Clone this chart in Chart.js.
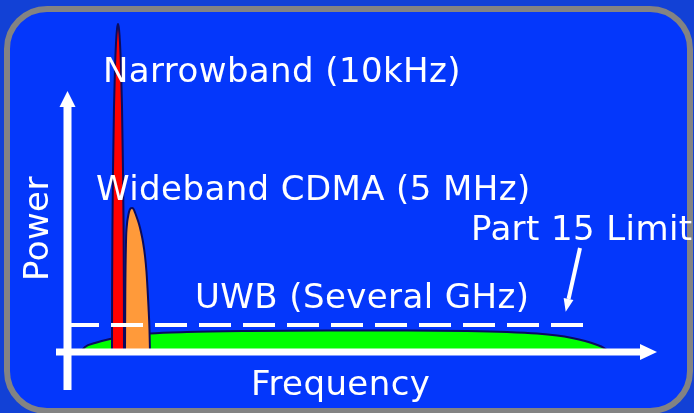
<!DOCTYPE html>
<html>
<head>
<meta charset="utf-8">
<script src="https://cdn.jsdelivr.net/npm/chart.js@4/dist/chart.umd.min.js"></script>
<style>
  html, body { margin: 0; padding: 0; background: #1241d6; overflow: hidden; }
  canvas { display: block; }
</style>
</head>
<body>
<canvas id="spectrum" width="694" height="413"></canvas>
<script>
// Spectrum sketch: frequency in arbitrary units (x), relative power (y)

// Narrowband carrier (10 kHz): tall, very thin spike
const narrowbandFreq  = [45, 45.1, 45.5, 46, 47, 48, 49, 50, 51, 52, 53, 54, 55, 56, 56.5, 56.9, 57];
const narrowbandPower = [0, 59, 131, 181, 245, 284, 309, 323, 328, 323, 309, 284, 245, 181, 131, 59, 0];

// Wideband CDMA (5 MHz): medium-height lobe
const widebandFreq  = [58, 58.3, 59, 60, 61, 62, 63.5, 65, 66.5, 68, 70, 72, 74, 76, 78, 79.5, 80.5, 81.5, 82.5, 83];
const widebandPower = [0, 60, 110, 128, 135, 140, 143.5, 144, 143, 139.5, 134, 128, 120, 110, 96, 80, 64, 45, 22, 0];

// UWB (several GHz): very low, very wide spread
const uwbFreq  = [14, 18, 28, 43, 60, 83, 120, 180, 260, 340, 400, 440, 470, 490, 505, 518, 529, 537, 542];
const uwbPower = [0, 5, 9, 13, 16, 18.5, 20, 21, 21.5, 21.5, 21, 20, 18.5, 16.5, 14, 11, 7.5, 4, 0];

// FCC Part 15 emission limit
const limitFreq  = [0, 516];
const limitPower = [27, 27];

// Text
const titleNarrow   = 'Narrowband (10kHz)';
const titleWideband = 'Wideband CDMA (5 MHz)';
const titleLimit    = 'Part 15 Limit';
const titleUwb      = 'UWB (Several GHz)';
const axisX         = 'Frequency';
const axisY         = 'Power';

const toPoints = (xs, ys) => xs.map((x, i) => ({ x: x, y: ys[i] }));

const OUTLINE = '#0b0b5e';
const FONT = '34px "DejaVu Sans", Verdana, sans-serif';

function drawArrow(ctx, x1, y1, x2, y2, width, headLen, headHalf) {
  const a = Math.atan2(y2 - y1, x2 - x1);
  const bx = x2 - headLen * Math.cos(a);
  const by = y2 - headLen * Math.sin(a);
  ctx.lineWidth = width;
  ctx.lineCap = 'butt';
  ctx.beginPath();
  ctx.moveTo(x1, y1);
  ctx.lineTo(bx, by);
  ctx.stroke();
  ctx.beginPath();
  ctx.moveTo(x2, y2);
  ctx.lineTo(bx + headHalf * Math.sin(a), by - headHalf * Math.cos(a));
  ctx.lineTo(bx - headHalf * Math.sin(a), by + headHalf * Math.cos(a));
  ctx.closePath();
  ctx.fill();
}

// Blue slide panel with a grey rounded frame
const panel = {
  id: 'panel',
  beforeDraw(chart) {
    const ctx = chart.ctx;
    ctx.save();
    ctx.fillStyle = '#1241d6';
    ctx.fillRect(0, 0, chart.width, chart.height);
    ctx.beginPath();
    ctx.roundRect(7, 9, 683, 402, 40);
    ctx.fillStyle = '#0437fb';
    ctx.fill();
    ctx.lineWidth = 6;
    ctx.strokeStyle = '#838383';
    ctx.stroke();
    ctx.restore();
  }
};

// Axis arrows, pointer arrow and text labels
const overlay = {
  id: 'overlay',
  afterDatasetsDraw(chart) {
    const ctx = chart.ctx;
    const xs = chart.scales.x, ys = chart.scales.y;
    ctx.save();
    ctx.strokeStyle = '#ffffff';
    ctx.fillStyle = '#ffffff';

    // power axis
    const ax = xs.getPixelForValue(0.5);
    drawArrow(ctx, ax, ys.getPixelForValue(-38), ax, ys.getPixelForValue(261), 8, 16, 8);
    // frequency axis
    const ay = ys.getPixelForValue(0);
    drawArrow(ctx, xs.getPixelForValue(-11), ay, xs.getPixelForValue(590), ay, 7, 17, 8);
    // pointer to the limit line
    drawArrow(ctx, xs.getPixelForValue(513), ys.getPixelForValue(104),
                   xs.getPixelForValue(498.7), ys.getPixelForValue(40.3), 4, 13, 5);

    ctx.font = FONT;
    ctx.letterSpacing = '0.4px';
    ctx.textAlign = 'left';
    ctx.textBaseline = 'alphabetic';
    ctx.fillText(titleNarrow, 103, 82);
    ctx.fillText(titleWideband, 96, 200);
    ctx.fillText(titleLimit, 471, 240);
    ctx.fillText(titleUwb, 195, 308);
    ctx.fillText(axisX, 251, 395);

    ctx.translate(48, 281);
    ctx.rotate(-Math.PI / 2);
    ctx.fillText(axisY, 0, 0);
    ctx.restore();
  }
};

new Chart(document.getElementById('spectrum'), {
  type: 'line',
  data: {
    datasets: [
      {
        label: titleLimit,
        data: toPoints(limitFreq, limitPower),
        borderColor: '#ffffff',
        borderWidth: 4,
        borderDash: [32, 12],
        borderCapStyle: 'butt',
        fill: false,
        pointRadius: 0,
        tension: 0
      },
      {
        label: titleNarrow,
        data: toPoints(narrowbandFreq, narrowbandPower),
        borderColor: OUTLINE,
        borderWidth: 2,
        backgroundColor: '#ff0000',
        fill: 'origin',
        pointRadius: 0,
        cubicInterpolationMode: 'monotone'
      },
      {
        label: titleWideband,
        data: toPoints(widebandFreq, widebandPower),
        borderColor: OUTLINE,
        borderWidth: 2,
        backgroundColor: '#ff9a3a',
        fill: 'origin',
        pointRadius: 0,
        cubicInterpolationMode: 'monotone'
      },
      {
        label: titleUwb,
        data: toPoints(uwbFreq, uwbPower),
        borderColor: OUTLINE,
        borderWidth: 2,
        backgroundColor: '#00ff00',
        fill: 'origin',
        pointRadius: 0,
        cubicInterpolationMode: 'monotone'
      }
    ]
  },
  options: {
    responsive: false,
    animation: false,
    devicePixelRatio: 1,
    layout: { padding: { left: 67, right: 37, top: 20, bottom: 61 } },
    scales: {
      x: { type: 'linear', min: 0, max: 590, display: false },
      y: { type: 'linear', min: 0, max: 332, display: false }
    },
    plugins: {
      legend: { display: false },
      tooltip: { enabled: false }
    },
    elements: { line: { borderJoinStyle: 'round' } }
  },
  plugins: [panel, overlay]
});
</script>
</body>
</html>
